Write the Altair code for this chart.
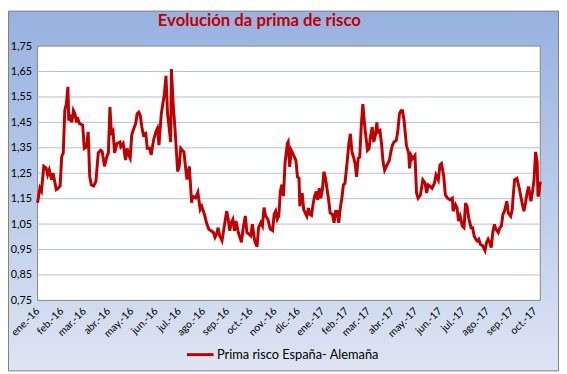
import altair as alt
import pandas as pd

series_name = "Prima risco España- Alemaña"
title_text = "Evolución da prima de risco"
start_date = "2016-01-01"
domain_end = "2017-10-08"

# days since 2016-01-01, and spread value
days_a = [0, 3, 5, 8, 11, 13, 15, 18, 20, 24, 26, 29, 31, 33, 35, 37, 39, 40, 42, 44,
          46, 48, 50, 51, 54, 58, 60, 63, 65, 67, 69, 72, 75, 78, 81, 83, 86, 89, 91, 93,
          95, 97, 99, 102, 106, 107, 110, 113, 115, 117, 119, 121, 123, 126, 128, 130, 132, 134, 136, 139,
          141, 144, 146, 149, 152, 154, 156, 159]
vals_a = [1.134, 1.192, 1.18, 1.277, 1.27, 1.244, 1.263, 1.225, 1.25, 1.186,
          1.19, 1.2, 1.315, 1.33, 1.497, 1.523, 1.59, 1.458, 1.47, 1.45,
          1.497, 1.484, 1.45, 1.47, 1.445, 1.439, 1.348, 1.354, 1.413, 1.238,
          1.205, 1.2, 1.218, 1.33, 1.34, 1.335, 1.277, 1.315, 1.33, 1.51,
          1.40, 1.413, 1.33, 1.367, 1.373, 1.354, 1.367, 1.302, 1.348, 1.322,
          1.309, 1.40, 1.42, 1.445, 1.484, 1.49, 1.477, 1.432, 1.40, 1.406,
          1.348, 1.348, 1.322, 1.38, 1.413, 1.426, 1.361, 1.484]

days_b = [163, 165, 167, 169, 171, 172, 174, 177, 180, 182, 184, 186, 188, 190, 192, 195, 198, 199, 203, 206,
          209, 211, 213, 215, 217, 220, 223, 226, 228, 230, 232, 234, 237, 240, 243, 245, 247, 249, 251, 253,
          255, 258, 262, 264, 267, 269, 272, 274, 276, 279, 282, 284, 287, 289, 291, 293, 296, 299, 302, 304,
          306, 308, 310, 312, 314, 316, 318, 321]
vals_b = [1.562, 1.633, 1.484, 1.432, 1.373, 1.66, 1.536, 1.406, 1.257, 1.277,
          1.348, 1.34, 1.335, 1.277, 1.225, 1.277, 1.134, 1.16, 1.153, 1.175,
          1.108, 1.12, 1.101, 1.082, 1.056, 1.03, 1.024, 1.017, 0.998, 1.01,
          1.036, 1.004, 0.985, 1.043, 1.101, 1.069, 1.024, 1.056, 1.069, 1.024,
          1.062, 1.017, 0.978, 1.03, 1.082, 1.017, 1.01, 1.004, 1.05, 0.985,
          0.961, 1.036, 1.056, 1.043, 1.115, 1.082, 1.069, 1.03, 1.024, 1.088,
          1.101, 1.069, 1.082, 1.179, 1.205, 1.16, 1.29, 1.367]

days_c = [322, 324, 326, 328, 330, 332, 334, 336, 337, 340, 342, 344, 346, 348, 350, 352, 354, 356, 358, 360,
          362, 364, 366, 368, 370, 374, 376, 379, 381, 383, 385, 387, 389, 391, 393, 395, 398, 400, 402, 404,
          406, 408, 410, 412, 414, 416, 418, 420, 421, 424, 426, 428, 430, 432, 434, 436, 437, 440, 442, 444,
          446, 449, 452, 454, 456, 458, 461, 463, 465, 467, 469, 471, 474]
vals_c = [1.373, 1.275, 1.34, 1.327, 1.314, 1.30, 1.236, 1.23, 1.12, 1.172,
          1.107, 1.094, 1.081, 1.113, 1.088, 1.084, 1.127, 1.159, 1.178, 1.146,
          1.191, 1.152, 1.185, 1.256, 1.23, 1.146, 1.094, 1.088, 1.055, 1.10,
          1.10, 1.055, 1.113, 1.152, 1.204, 1.21, 1.30, 1.366, 1.405, 1.334,
          1.314, 1.288, 1.236, 1.308, 1.314, 1.437, 1.522, 1.45, 1.418, 1.34,
          1.347, 1.398, 1.431, 1.373, 1.398, 1.45, 1.411, 1.418, 1.366, 1.295,
          1.262, 1.282, 1.30, 1.334, 1.36, 1.373, 1.379, 1.418, 1.483, 1.496,
          1.496, 1.457, 1.36]

days_d = [477, 478, 480, 482, 485, 487, 489, 492, 495, 498, 500, 502, 504, 507, 510, 512, 515, 517, 519, 522,
          524, 527, 530, 533, 534, 537, 539, 541, 543, 546, 548, 550, 552, 554, 557, 559, 561, 563, 565, 567,
          569, 572, 575, 577, 579, 581, 583, 585, 587, 589, 592, 594, 596, 598, 600, 603, 605, 608, 610, 611,
          613, 616, 619, 621, 623, 625, 627, 629, 631, 634, 636, 638, 640, 642, 643, 644, 646]
vals_d = [1.327, 1.269, 1.32, 1.308, 1.32, 1.172, 1.152, 1.165, 1.224, 1.211,
          1.172, 1.204, 1.2, 1.191, 1.211, 1.243, 1.224, 1.282, 1.288, 1.237,
          1.165, 1.152, 1.146, 1.152, 1.101, 1.127, 1.114, 1.062, 1.081, 1.042,
          1.036, 1.133, 1.12, 1.075, 1.036, 1.036, 1.004, 0.991, 0.984, 0.991,
          0.971, 0.965, 0.946, 0.978, 0.991, 0.978, 0.958, 1.017, 1.049, 1.03,
          1.017, 1.036, 1.042, 1.088, 1.101, 1.14, 1.094, 1.081, 1.107, 1.152,
          1.224, 1.23, 1.191, 1.159, 1.127, 1.101, 1.133, 1.172, 1.198, 1.14,
          1.178, 1.224, 1.334, 1.295, 1.159, 1.165, 1.217]

month_abbr = ["ene.", "feb.", "mar.", "abr.", "may.", "jun.",
              "jul.", "ago.", "sep.", "oct.", "nov.", "dic."]
y_ticks = [0.75, 0.85, 0.95, 1.05, 1.15, 1.25, 1.35, 1.45, 1.55, 1.65, 1.75]

days = days_a + days_b + days_c + days_d
vals = vals_a + vals_b + vals_c + vals_d
assert len(days) == len(vals), (len(days), len(vals))

df = pd.DataFrame({
    "fecha": pd.Timestamp(start_date) + pd.to_timedelta(days, unit="D"),
    "prima": vals,
    "serie": series_name,
})
grid_df = pd.DataFrame({"prima": y_ticks[1:-1]})
one_df = pd.DataFrame({"k": [0]})

tick_months = pd.date_range(start_date, "2017-10-01", freq="MS")
x_values = [alt.DateTime(year=int(d.year), month=int(d.month), date=1) for d in tick_months]
s0 = pd.Timestamp(start_date)
s1 = pd.Timestamp(domain_end)

W, H = 510, 258
PL, PT, PR, PB = 30, 36, 19, 72
FONT = "Lato"

month_arr = "[" + ",".join("'%s'" % m for m in month_abbr) + "]"
x_label_expr = month_arr + "[month(datum.value)] + '-' + timeFormat(datum.value, '%y')"

x_enc = alt.X(
    "fecha:T",
    scale=alt.Scale(domain=[alt.DateTime(year=s0.year, month=s0.month, date=s0.day),
                            alt.DateTime(year=s1.year, month=s1.month, date=s1.day)]),
    axis=alt.Axis(values=x_values, labelExpr=x_label_expr, labelAngle=-45,
                  labelAlign="right", labelBaseline="middle", labelPadding=9,
                  grid=False, domain=False, ticks=False, title=None, zindex=1,
                  labelFont=FONT, labelFontSize=10.5, labelColor="#000000",
                  labelOverlap=False, labelFlush=False, labelBound=False),
)


def y_enc():
    return alt.Y(
        "prima:Q",
        scale=alt.Scale(domain=[0.75, 1.75], nice=False, zero=False),
        axis=alt.Axis(values=y_ticks, labelExpr="replace(format(datum.value, '.2f'), '.', ',')",
                      grid=False, domain=False, ticks=False, title=None, zindex=1,
                      labelPadding=6, labelFont=FONT, labelFontSize=11, labelColor="#000000"),
    )


bg = alt.Chart(one_df).mark_rect(
    fill=alt.Gradient(gradient="linear", x1=0, x2=0, y1=0, y2=1,
                      stops=[alt.GradientStop(color="#97B1E0", offset=0),
                             alt.GradientStop(color="#DDE5F2", offset=1)]),
    stroke="#7F7F7F", strokeWidth=1,
).encode(x=alt.value(-PL + 0.5), x2=alt.value(W + PR - 0.5),
         y=alt.value(-PT + 0.5), y2=alt.value(H + PB - 0.5))

plot_bg = alt.Chart(one_df).mark_rect(fill="white", stroke="#868686", strokeWidth=1).encode(
    x=alt.value(0), x2=alt.value(W), y=alt.value(0), y2=alt.value(H))

grid = alt.Chart(grid_df).mark_rule(color="#B3C0D6", strokeWidth=1).encode(y=y_enc())

line = alt.Chart(df).mark_line(strokeWidth=3).encode(
    x=x_enc,
    y=y_enc(),
    color=alt.Color("serie:N", scale=alt.Scale(range=["#C00000"]),
                    legend=alt.Legend(title=None, orient="none", legendX=150, legendY=298,
                                      symbolType="stroke", symbolSize=729, symbolStrokeWidth=3,
                                      labelFont=FONT, labelFontSize=13, labelColor="#000000",
                                      labelOffset=2, labelLimit=400, padding=0, zindex=1)),
)

chart = alt.layer(bg, plot_bg, grid, line).properties(
    width=W, height=H,
    padding={"left": PL, "top": PT, "right": PR, "bottom": PB},
    autosize=alt.AutoSizeParams(type="none"),
    title=alt.TitleParams(text=title_text, font=FONT, fontSize=17, fontWeight="bold",
                          color="#C00000", anchor="middle", frame="group", dx=-30, offset=-20),
).configure_view(stroke=None)

chart.save("out.html", embed_options={"renderer": "svg", "actions": False})
